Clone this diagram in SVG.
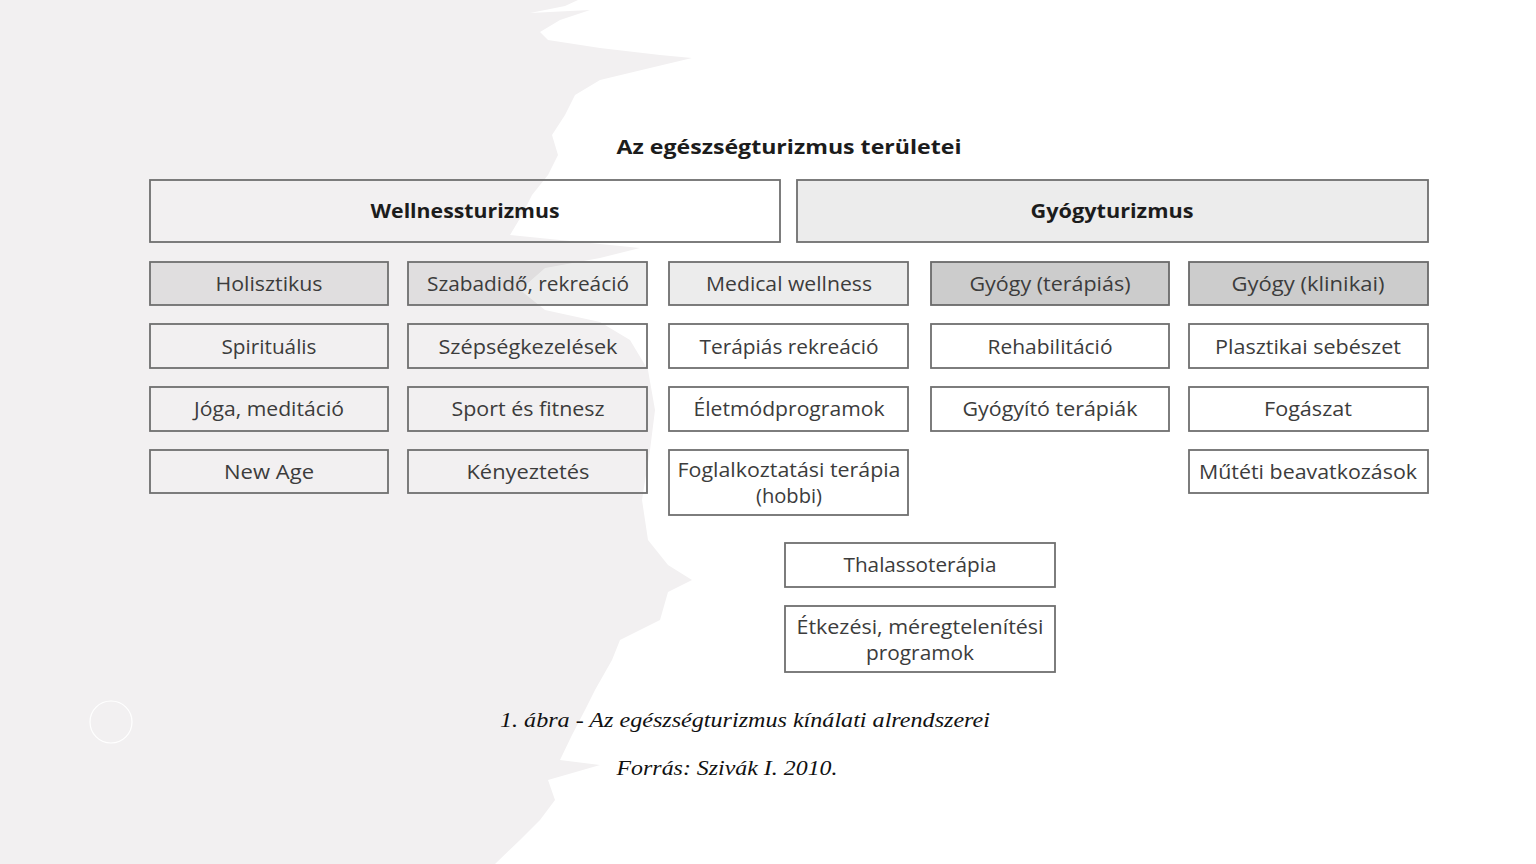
<svg xmlns="http://www.w3.org/2000/svg" width="1536" height="864" viewBox="0 0 1536 864">
<style>
.bx{fill:none;stroke:#6f6f6f;stroke-width:1.8}
.g1{fill:#000;fill-opacity:0.075;stroke:#6f6f6f;stroke-width:1.8}
.g2{fill:#000;fill-opacity:0.2;stroke:#6a6a6a;stroke-width:1.8}
.t{font-family:"Open Sans","Noto Sans","Liberation Sans",sans-serif;font-size:20px;fill:#3c3c3c;text-anchor:middle}
.b{font-family:"Open Sans","Noto Sans","Liberation Sans",sans-serif;font-size:20px;font-weight:bold;fill:#1c1c1c;text-anchor:middle}
.c{font-family:"Liberation Serif","Times New Roman",serif;font-size:22px;font-style:italic;fill:#111;text-anchor:middle}
</style>
<rect width="1536" height="864" fill="#ffffff"/>
<path d="M0,0 L578,0 L565,6 L530,13 L590,10 L560,20 L540,32 L548,40 L600,48 L660,55 L692,58 L650,68 L600,80 L575,95 L565,115 L552,135 L558,155 L548,175 L532,195 L522,215 L510,235 L560,240 L640,248 L600,258 L545,268 L520,290 L545,310 L600,322 L630,340 L648,370 L655,410 L650,450 L642,500 L648,540 L668,565 L692,580 L668,592 L660,620 L620,640 L612,660 L595,690 L585,710 L572,735 L560,760 L600,765 L548,780 L555,800 L540,820 L520,840 L495,864 L0,864 Z" fill="#f2f0f1"/>
<circle cx="111" cy="722" r="21" fill="none" stroke="#ffffff" stroke-width="1.2"/>

<text id="title" x="789" y="154" class="b" font-size="22" textLength="345" lengthAdjust="spacingAndGlyphs">Az egészségturizmus területei</text>

<g id="wellness"><rect class="bx" x="150" y="180" width="630" height="62"/><text class="b" x="465" y="218" textLength="189" lengthAdjust="spacingAndGlyphs">Wellnessturizmus</text></g>
<g id="gyogy"><rect class="g1" x="797" y="180" width="631" height="62"/><text class="b" x="1112" y="218" textLength="163" lengthAdjust="spacingAndGlyphs">Gyógyturizmus</text></g>

<g id="holisztikus"><rect class="g1" x="150" y="262" width="238" height="43"/><text class="t" x="269" y="291" textLength="107" lengthAdjust="spacingAndGlyphs">Holisztikus</text></g>
<g id="szabadido"><rect class="g1" x="408" y="262" width="239" height="43"/><text class="t" x="528" y="291" textLength="202" lengthAdjust="spacingAndGlyphs">Szabadidő, rekreáció</text></g>
<g id="medical"><rect class="g1" x="669" y="262" width="239" height="43"/><text class="t" x="789" y="291" textLength="166" lengthAdjust="spacingAndGlyphs">Medical wellness</text></g>
<g id="gyogy-ter"><rect class="g2" x="931" y="262" width="238" height="43"/><text class="t" x="1050" y="291" textLength="161" lengthAdjust="spacingAndGlyphs">Gyógy (terápiás)</text></g>
<g id="gyogy-klin"><rect class="g2" x="1189" y="262" width="239" height="43"/><text class="t" x="1308" y="291" textLength="153" lengthAdjust="spacingAndGlyphs">Gyógy (klinikai)</text></g>

<g id="spiritualis"><rect class="bx" x="150" y="324" width="238" height="44"/><text class="t" x="269" y="354" textLength="95" lengthAdjust="spacingAndGlyphs">Spirituális</text></g>
<g id="szepseg"><rect class="bx" x="408" y="324" width="239" height="44"/><text class="t" x="528" y="354" textLength="179" lengthAdjust="spacingAndGlyphs">Szépségkezelések</text></g>
<g id="terapias-rekr"><rect class="bx" x="669" y="324" width="239" height="44"/><text class="t" x="789" y="354" textLength="179" lengthAdjust="spacingAndGlyphs">Terápiás rekreáció</text></g>
<g id="rehab"><rect class="bx" x="931" y="324" width="238" height="44"/><text class="t" x="1050" y="354" textLength="125" lengthAdjust="spacingAndGlyphs">Rehabilitáció</text></g>
<g id="plasztikai"><rect class="bx" x="1189" y="324" width="239" height="44"/><text class="t" x="1308" y="354" textLength="186" lengthAdjust="spacingAndGlyphs">Plasztikai sebészet</text></g>

<g id="joga"><rect class="bx" x="150" y="387" width="238" height="44"/><text class="t" x="269" y="416" textLength="150" lengthAdjust="spacingAndGlyphs">Jóga, meditáció</text></g>
<g id="sport"><rect class="bx" x="408" y="387" width="239" height="44"/><text class="t" x="528" y="416" textLength="153" lengthAdjust="spacingAndGlyphs">Sport és fitnesz</text></g>
<g id="eletmod"><rect class="bx" x="669" y="387" width="239" height="44"/><text class="t" x="789" y="416" textLength="191" lengthAdjust="spacingAndGlyphs">Életmódprogramok</text></g>
<g id="gyogyito"><rect class="bx" x="931" y="387" width="238" height="44"/><text class="t" x="1050" y="416" textLength="175" lengthAdjust="spacingAndGlyphs">Gyógyító terápiák</text></g>
<g id="fogaszat"><rect class="bx" x="1189" y="387" width="239" height="44"/><text class="t" x="1308" y="416" textLength="88" lengthAdjust="spacingAndGlyphs">Fogászat</text></g>

<g id="newage"><rect class="bx" x="150" y="450" width="238" height="43"/><text class="t" x="269" y="479" textLength="90" lengthAdjust="spacingAndGlyphs">New Age</text></g>
<g id="kenyeztetes"><rect class="bx" x="408" y="450" width="239" height="43"/><text class="t" x="528" y="479" textLength="123" lengthAdjust="spacingAndGlyphs">Kényeztetés</text></g>
<g id="foglalkoztatasi"><rect class="bx" x="669" y="450" width="239" height="65"/><text class="t" x="789" y="477" textLength="223" lengthAdjust="spacingAndGlyphs">Foglalkoztatási terápia</text><text class="t" x="789" y="503" textLength="66" lengthAdjust="spacingAndGlyphs">(hobbi)</text></g>
<g id="mutet"><rect class="bx" x="1189" y="450" width="239" height="43"/><text class="t" x="1308" y="479" textLength="218" lengthAdjust="spacingAndGlyphs">Műtéti beavatkozások</text></g>

<g id="thalasso"><rect class="bx" x="785" y="543" width="270" height="44"/><text class="t" x="920" y="572" textLength="153" lengthAdjust="spacingAndGlyphs">Thalassoterápia</text></g>
<g id="etkezesi"><rect class="bx" x="785" y="606" width="270" height="66"/><text class="t" x="920" y="634" textLength="247" lengthAdjust="spacingAndGlyphs">Étkezési, méregtelenítési</text><text class="t" x="920" y="660" textLength="108" lengthAdjust="spacingAndGlyphs">programok</text></g>

<g id="connectors"></g>

<text class="c" x="745" y="727" textLength="490" lengthAdjust="spacingAndGlyphs">1. ábra - Az egészségturizmus kínálati alrendszerei</text>
<text class="c" x="727" y="775" textLength="221" lengthAdjust="spacingAndGlyphs">Forrás: Szivák I. 2010.</text>
</svg>
